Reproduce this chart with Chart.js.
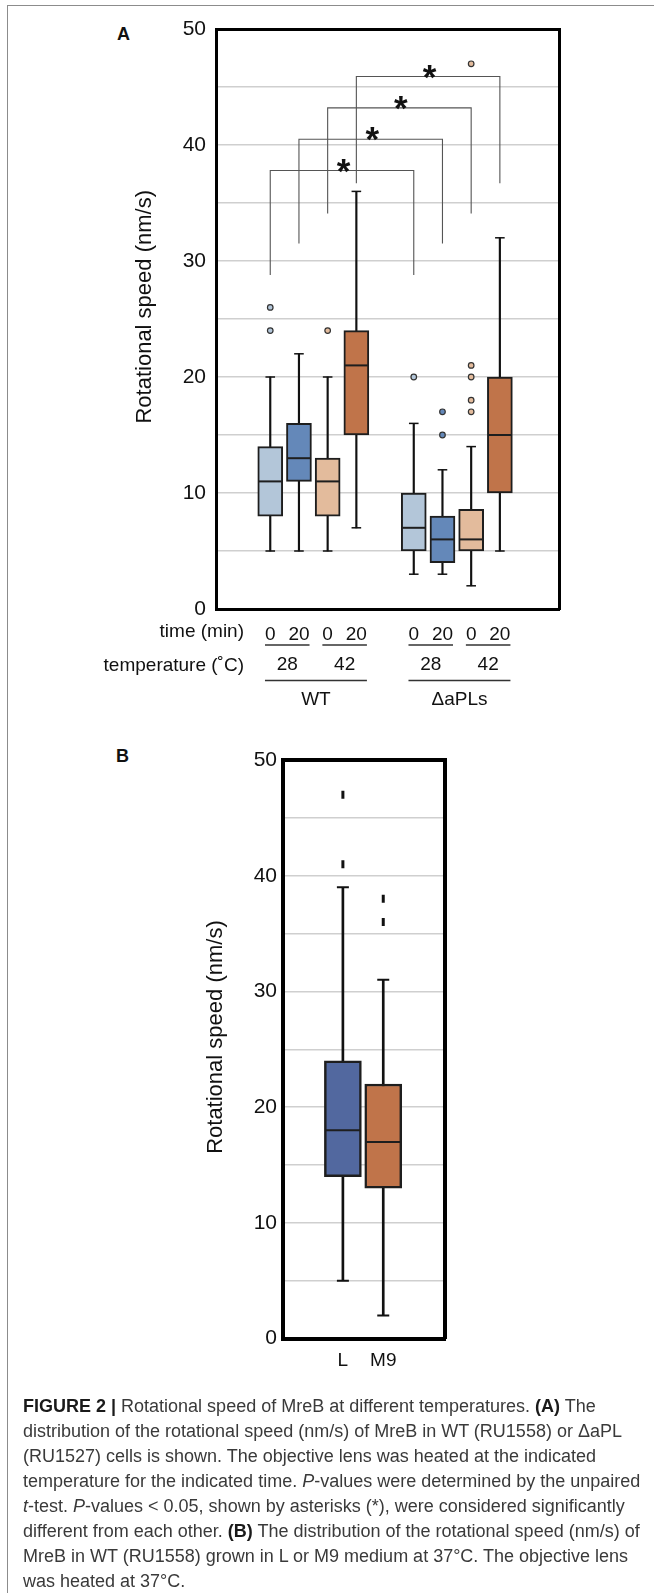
<!DOCTYPE html>
<html><head><meta charset="utf-8">
<script src="https://cdn.jsdelivr.net/npm/chart.js@4.4.0/dist/chart.umd.min.js"></script>
<style>
html,body{margin:0;padding:0;background:#fff;}
body{width:654px;height:1593px;position:relative;overflow:hidden;font-family:'Liberation Sans',Arial,sans-serif;}
.frame{position:absolute;left:7px;top:5px;width:700px;height:1700px;border-top:1.5px solid #8c8c8c;border-left:1.5px solid #8c8c8c;}
.plabel{position:absolute;font-weight:bold;font-size:18px;line-height:18px;color:#111;}
canvas{position:absolute;left:0;}
#chartA{top:0;}
#chartB{top:720px;}
.caption{position:absolute;left:23px;top:1394px;font-size:18px;line-height:25px;color:#3a3a3a;white-space:nowrap;}
.caption b{color:#1a1a1a;}
</style></head>
<body>
<div class="frame"></div>
<div class="plabel" style="left:117px;top:25px">A</div>
<div class="plabel" style="left:116px;top:747px">B</div>
<canvas id="chartA" width="654" height="720"></canvas>
<canvas id="chartB" width="654" height="680"></canvas>
<div class="caption">
<b>FIGURE 2 |</b> Rotational speed of MreB at different temperatures. <b>(A)</b> The<br>
distribution of the rotational speed (nm/s) of MreB in WT (RU1558) or ΔaPL<br>
(RU1527) cells is shown. The objective lens was heated at the indicated<br>
temperature for the indicated time. <i>P</i>-values were determined by the unpaired<br>
<i>t</i>-test. <i>P</i>-values &lt; 0.05, shown by asterisks (*), were considered significantly<br>
different from each other. <b>(B)</b> The distribution of the rotational speed (nm/s) of<br>
MreB in WT (RU1558) grown in L or M9 medium at 37°C. The objective lens<br>
was heated at 37°C.
</div>
<script>
/* ---- panel A data ---- */
const strainsA = ['WT', 'ΔaPLs'];
const tempsA = ['28', '42'];
const timesA = ['0', '20'];
// boxes in order: WT 28/0, WT 28/20, WT 42/0, WT 42/20, ΔaPLs 28/0 ...
const minA = [5, 5, 5, 7, 3, 3, 2, 5];
const q1A = [8, 11, 8, 15, 5, 4, 5, 10];
const medA = [11, 13, 11, 21, 7, 6, 6, 15];
const q3A = [14, 16, 13, 24, 10, 8, 8.6, 20];
const maxA = [20, 22, 20, 36, 16, 12, 14, 32];
const outA = [[26, 24], [], [24], [], [20], [17, 15], [47, 21, 20, 18, 17], []];
// significance brackets: [box a, box b], top of bracket, foot of legs
const sigPairs = [[0, 4], [1, 5], [2, 6], [3, 7]];
const sigTop = [37.8, 40.5, 43.2, 45.9];
const sigFoot = [28.8, 31.5, 34.1, 36.7];

/* ---- panel B data ---- */
const mediaB = ['L', 'M9'];
const minB = [5, 2];
const q1B = [14, 13];
const medB = [18, 17];
const q3B = [24, 22];
const maxB = [39, 31];
const outB = [[47, 41], [38, 36]];

const FONT = "'Liberation Sans', Arial, sans-serif";
Chart.defaults.font.family = FONT;
Chart.defaults.color = '#111';

const boxColA = ['#b3c6d9', '#6488b9', '#e3bb9c', '#c0744a', '#b3c6d9', '#6488b9', '#e3bb9c', '#c0744a'];
const boxColB = ['#52689f', '#c0744a'];

// slot on the x axis: one empty slot between strains
const slotA = minA.map((_, i) => i + (i < 4 ? 1 : 2));
const slotB = mediaB.map((_, i) => i + 1);

function boxSets(slots, mins, q1s, meds, q3s, maxs, outs, cols, st) {
  const outPts = [], outCols = [];
  outs.forEach((arr, i) => arr.forEach(v => { outPts.push({x: slots[i], y: v}); outCols.push(cols[i]); }));
  return [
    {type: 'bar', data: slots.map((s, i) => ({x: s, y: [mins[i], maxs[i]]})), backgroundColor: '#111',
     borderWidth: 0, barThickness: st.whisker, grouped: false, order: 6},
    {type: 'bar', data: slots.map((s, i) => ({x: s, y: [q1s[i], q3s[i]]})), backgroundColor: cols,
     borderColor: '#1e1e1e', borderWidth: st.boxBorder, borderSkipped: false, barThickness: st.box, grouped: false, order: 5},
    {type: 'scatter', data: slots.map((s, i) => ({x: s, y: meds[i]})), pointStyle: 'line',
     pointRadius: st.box / 2 - 1, pointBorderWidth: st.median, borderColor: '#1e1e1e', pointBorderColor: '#1e1e1e', order: 4},
    {type: 'scatter', data: slots.flatMap((s, i) => [{x: s, y: mins[i]}, {x: s, y: maxs[i]}]), pointStyle: 'line',
     pointRadius: st.cap, pointBorderWidth: st.whisker, borderColor: '#111', pointBorderColor: '#111', order: 4},
    Object.assign({type: 'scatter', data: outPts, order: 3}, st.outStyle(outCols))
  ];
}

const setsA = boxSets(slotA, minA, q1A, medA, q3A, maxA, outA, boxColA, {
  whisker: 1.5, box: 25, boxBorder: 2, median: 2, cap: 4.8,
  outStyle: c => ({pointStyle: 'circle', pointRadius: 2.8, pointBorderWidth: 1.2, pointBorderColor: '#333', pointBackgroundColor: c})
});
sigPairs.forEach(([a, b], k) => {
  setsA.push({type: 'scatter', showLine: true, order: 1, borderColor: '#555', borderWidth: 1.1, pointRadius: 0,
    data: [{x: slotA[a], y: sigFoot[k]}, {x: slotA[a], y: sigTop[k]}, {x: slotA[b], y: sigTop[k]}, {x: slotA[b], y: sigFoot[k]}]});
});

const starPlugin = {
  id: 'stars',
  afterDatasetsDraw(chart) {
    const {ctx, scales: {x, y}} = chart;
    ctx.save();
    ctx.font = 'bold 35px ' + FONT;
    ctx.fillStyle = '#111';
    ctx.textAlign = 'center';
    ctx.textBaseline = 'alphabetic';
    sigPairs.forEach(([a, b], k) => {
      const px = x.getPixelForValue((slotA[a] + slotA[b]) / 2);
      ctx.fillText('*', px + 1.5, y.getPixelForValue(sigTop[k]) + 12);
    });
    ctx.restore();
  }
};

const tablePlugin = {
  id: 'tableA',
  afterDraw(chart) {
    const {ctx, chartArea, scales: {x}} = chart;
    const b = chartArea.bottom;
    ctx.save();
    ctx.font = '19px ' + FONT;
    ctx.fillStyle = '#111';
    ctx.strokeStyle = '#333';
    ctx.lineWidth = 1.5;
    ctx.textBaseline = 'middle';
    ctx.textAlign = 'right';
    ctx.fillText('time (min)', 244, b + 23);
    ctx.fillText('temperature (˚C)', 244, b + 57);
    ctx.textAlign = 'center';
    const w0 = ctx.measureText(timesA[0]).width, w1 = ctx.measureText(timesA[1]).width;
    const line = (x1, x2, yy) => { ctx.beginPath(); ctx.moveTo(x1, yy); ctx.lineTo(x2, yy); ctx.stroke(); };
    strainsA.forEach((s, si) => {
      const first = si * 4;
      tempsA.forEach((t, ti) => {
        const i = first + ti * 2;
        const l = x.getPixelForValue(slotA[i]) - w0 / 2, r = x.getPixelForValue(slotA[i + 1]) + w1 / 2;
        line(l, r, b + 36);
        ctx.fillText(t, (l + r) / 2, b + 56);
      });
      const l = x.getPixelForValue(slotA[first]) - w0 / 2, r = x.getPixelForValue(slotA[first + 3]) + w1 / 2;
      line(l, r, b + 71.5);
      ctx.fillText(s, (l + r) / 2, b + 91);
    });
    ctx.restore();
  }
};

function yAxis(width, pad, titlePad, borderW) {
  return {
    min: 0, max: 50,
    grid: {color: '#cfcfcf', lineWidth: 1.5, drawTicks: false},
    border: {color: '#000', width: borderW},
    ticks: {stepSize: 5, padding: pad, color: '#111', font: {size: 21}, callback: v => (v % 10 === 0 ? v : '')},
    title: {display: true, text: '    Rotational speed (nm/s)', color: '#111', font: {size: 22}, padding: {top: titlePad, bottom: 0}},
    afterFit: ax => { ax.width = width; }
  };
}
function frameAxis(pos, borderW) {
  return {type: 'linear', position: pos, min: 0, max: 1, grid: {display: false, drawTicks: false},
    ticks: {display: false}, border: {color: '#000', width: borderW}};
}

new Chart(document.getElementById('chartA'), {
  type: 'bar',
  data: {datasets: setsA},
  options: {
    responsive: false, animation: false, events: [],
    layout: {padding: {left: 120, right: 95, top: 29, bottom: 71}},
    plugins: {legend: {display: false}, tooltip: {enabled: false}},
    scales: {
      x: {type: 'linear', min: -0.89, max: 11.06, offset: false,
        grid: {display: false, drawTicks: false}, border: {color: '#000', width: 3},
        afterBuildTicks: ax => { ax.ticks = slotA.map(v => ({value: v})); },
        afterFit: ax => { ax.height = 40; },
        ticks: {autoSkip: false, maxRotation: 0, padding: 14, color: '#111', font: {size: 19},
          callback: (v, i) => timesA[i % 2]}},
      xTop: frameAxis('top', 3),
      y: yAxis(96, 10, 11.4, 3),
      yRight: frameAxis('right', 3)
    }
  },
  plugins: [starPlugin, tablePlugin]
});

const setsB = boxSets(slotB, minB, q1B, medB, q3B, maxB, outB, boxColB, {
  whisker: 2, box: 37, boxBorder: 2.5, median: 2, cap: 6,
  outStyle: () => ({pointStyle: 'line', pointRotation: 90, pointRadius: 4, pointBorderWidth: 3, pointBorderColor: '#111', borderColor: '#111'})
});

new Chart(document.getElementById('chartB'), {
  type: 'bar',
  data: {datasets: setsB},
  options: {
    responsive: false, animation: false, events: [],
    layout: {padding: {left: 190, right: 209, top: 40, bottom: 21.4}},
    plugins: {legend: {display: false}, tooltip: {enabled: false}},
    scales: {
      x: {type: 'linear', min: -0.484, max: 3.53, offset: false,
        grid: {display: false, drawTicks: false}, border: {color: '#000', width: 4},
        afterBuildTicks: ax => { ax.ticks = slotB.map(v => ({value: v})); },
        afterFit: ax => { ax.height = 40; },
        ticks: {autoSkip: false, maxRotation: 0, padding: 11, color: '#111', font: {size: 19},
          callback: (v, i) => mediaB[i]}},
      xTop: frameAxis('top', 4),
      y: yAxis(93, 6, 12.8, 4),
      yRight: frameAxis('right', 4)
    }
  }
});
</script>
</body></html>
